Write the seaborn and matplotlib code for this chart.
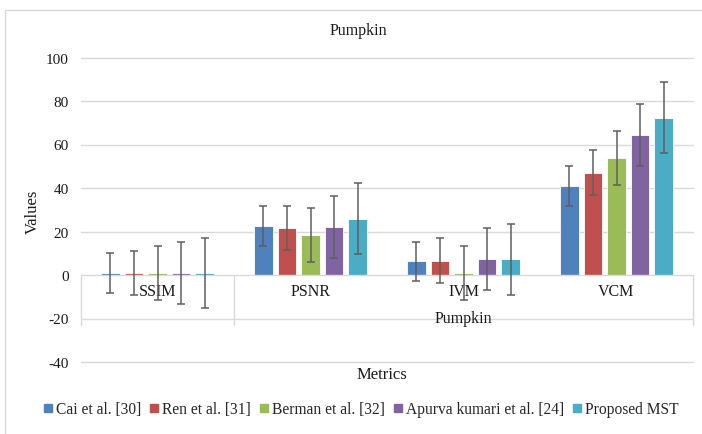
import numpy as np
import pandas as pd
import matplotlib
matplotlib.use("Agg")
import matplotlib.pyplot as plt
import seaborn as sns
from matplotlib.patches import Rectangle
from matplotlib.lines import Line2D

# ---- data ----
metrics = ["SSIM", "PSNR", "IVM", "VCM"]
methods = ["Cai et al. [30]", "Ren et al. [31]", "Berman et al. [32]",
           "Apurva kumari et al. [24]", "Proposed MST"]
cai = [0.9, 22.4, 6.3, 41.0]
ren = [0.9, 21.6, 6.5, 47.0]
berman = [0.9, 18.2, 0.9, 53.6]
apurva = [0.9, 21.9, 7.2, 64.2]
proposed = [0.9, 25.9, 7.2, 72.4]
errors = [9.1, 10.3, 12.4, 14.3, 16.2]
yticks = [-40, -20, 0, 20, 40, 60, 80, 100]
colors = ["#4F81BD", "#C0504D", "#9BBB59", "#8064A2", "#4BACC6"]

series = [cai, ren, berman, apurva, proposed]
rows = []
for m, vals, e in zip(methods, series, errors):
    for k, v in zip(metrics, vals):
        rows.append({"Metric": k, "Method": m, "Value": v, "Err": e})
df = pd.DataFrame(rows)

sns.set_theme(style="white")
plt.rcParams["font.family"] = ["Liberation Serif", "DejaVu Serif"]

W, H = 702, 435
fig = plt.figure(figsize=(W / 100, H / 100), dpi=100)
left, right, top, bottom = 81, 693, 58.5, 363
ax = fig.add_axes([left / W, (H - bottom) / H, (right - left) / W, (bottom - top) / H])

sns.barplot(data=df, x="Metric", y="Value", hue="Method", order=metrics,
            hue_order=methods, palette=colors, width=0.77, gap=0.2,
            edgecolor="white", linewidth=0.6, saturation=1, ax=ax,
            legend=False, errorbar=None)

# error bars centered on each bar
for (m, e), cont in zip(zip(methods, errors), ax.containers):
    xs = [p.get_x() + p.get_width() / 2 for p in cont]
    ys = [p.get_height() for p in cont]
    ax.errorbar(xs, ys, yerr=e, fmt="none", ecolor="#5f5f5f", elinewidth=1.1,
                capsize=2.7, capthick=1.1, zorder=5)

ax.set_ylim(-40, 100)
ax.set_xlim(-0.5, 3.5)
ax.set_yticks(yticks)
ax.set_yticklabels([str(t) for t in yticks])
ax.tick_params(axis="y", length=0, pad=9, labelsize=11, labelcolor="#1a1a1a")
ax.set_xticks([])
ax.set_xlabel("")
ax.set_ylabel("")
for s in ax.spines.values():
    s.set_visible(False)

grid_c = "#D9D9D9"
for t in yticks:
    if t != 0:
        ax.axhline(t, color=grid_c, lw=1.0, zorder=0, clip_on=False)
ax.axhline(0, color=grid_c, lw=1.0, zorder=1)

# multi-level category axis
for xv in [-0.5, 0.5, 3.5]:
    ax.plot([xv, xv], [0, -23], color=grid_c, lw=1.0, clip_on=False, zorder=1)
for i, m in enumerate(metrics):
    ax.text(i, -7.5, m, ha="center", va="center", fontsize=11.5, color="#1a1a1a")
ax.text(2, -19.8, "Pumpkin", ha="center", va="center", fontsize=11.5, color="#1a1a1a")

# titles and labels
fig.text(358 / W, 1 - 31 / H, "Pumpkin", ha="center", va="center", fontsize=11.5, color="#1a1a1a")
fig.text(33 / W, 1 - 212 / H, "Values", ha="center", va="center", rotation=90, fontsize=12, color="#1a1a1a")
fig.text(382 / W, 1 - 375 / H, "Metrics", ha="center", va="center", fontsize=12, color="#1a1a1a")

handles = [Line2D([], [], marker="s", linestyle="none", markersize=5.5,
                  markerfacecolor=c, markeredgecolor=c) for c in colors]
fig.legend(handles, methods, loc="center", bbox_to_anchor=(361 / W, 1 - 410 / H),
           ncol=5, frameon=False, fontsize=11.2, handlelength=0.6, handletextpad=0.2,
           columnspacing=0.55, borderaxespad=0)

# chart border
fig.add_artist(Rectangle((4.5 / W, -0.1), 1.2, 1 - 10.5 / H + 0.1, transform=fig.transFigure,
                         fill=False, edgecolor="#D9D9D9", lw=1.0))

fig.savefig("out.png", dpi=100, facecolor="white")
